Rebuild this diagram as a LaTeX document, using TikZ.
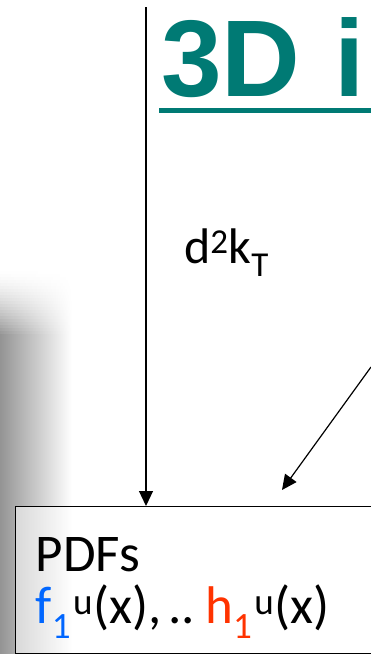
\documentclass[tikz,border=0pt]{standalone}
\usepackage{fontspec}
\setmainfont{Carlito}
\newfontfamily\titlefont{Liberation Sans}
\usepackage{xcolor}
\usepackage{tikz}
\usetikzlibrary{calc,arrows.meta,positioning}
\definecolor{titleTeal}{RGB}{0,122,116}
\definecolor{pdfBlue}{RGB}{0,102,255}
\definecolor{pdfRed}{RGB}{255,51,0}

\tikzset{
    flowarrow/.style={-{Triangle[length=15pt,width=14pt]}, line width=1.2pt},
    pdfbox/.style={draw, line width=1.3pt, fill=white, fill opacity=0.55, text opacity=1,
        minimum width=351pt, minimum height=147pt, text width=321pt, align=left,
        inner xsep=20pt, anchor=north west}
}

\begin{document}
\begin{tikzpicture}[x=1pt,y=-1pt]
    \useasboundingbox (0,0) rectangle (371,654);
    \clip (0,0) rectangle (371,654);

    % soft shadow on the left, fading in towards the top
    \foreach \i in {0,...,22} {
        \pgfmathsetmacro{\shade}{42*(\i/22)^1.5}
        \fill[left color=black!\shade, right color=white] (0,268+3*\i) rectangle (72,271.5+3*\i);
    }
    \fill[left color=black!42, right color=white] (0,337) rectangle (72,654);

    % title, cut by the frame
    \node[anchor=base west, inner sep=0pt, text=titleTeal,
        font=\titlefont\bfseries\fontsize{109}{120}\selectfont] (title) at (161,96) {3D\hspace{4pt} in};
    \draw[titleTeal, line width=5pt] (159,110.5) -- (371,110.5);

    % box
    \node[pdfbox, font=\fontsize{53}{52}\selectfont] (pdfs) at (15,506)
        {\rule{0pt}{50pt}PDFs\\\textcolor{pdfBlue}{f\textsubscript{1}}\hspace{2pt}\textsuperscript{u}(x),\hspace{7pt}..\hspace{10pt}\textcolor{pdfRed}{h\textsubscript{1}}\hspace{2pt}\textsuperscript{u}(x)};

    % arrows
    \coordinate (kttop) at (146,7);
    \coordinate (diagsrc) at (371,367);
    \coordinate (diagend) at (282,490);
    \draw[flowarrow] (kttop) -- (kttop |- pdfs.north);
    \draw[flowarrow] (diagsrc) -- (diagend);

    \node[anchor=base west, inner sep=0pt, font=\fontsize{50}{56}\selectfont] (ktlabel) at (184,263)
        {d\textsuperscript{2}k\textsubscript{T}};
\end{tikzpicture}
\end{document}
